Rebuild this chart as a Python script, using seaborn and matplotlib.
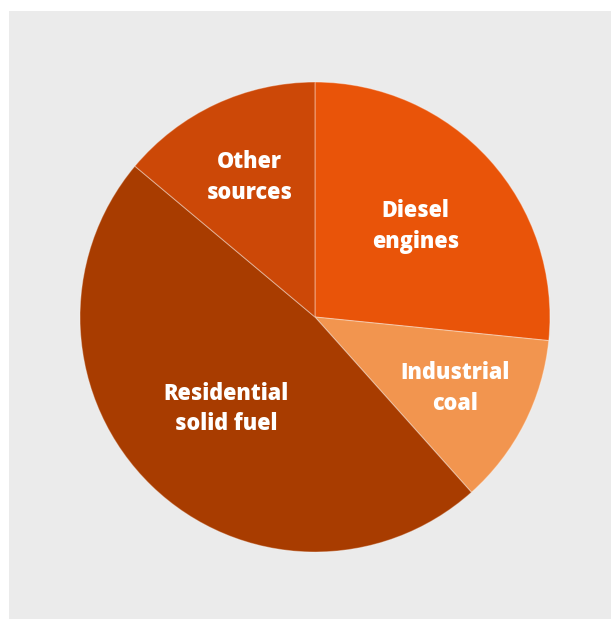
import matplotlib
matplotlib.use("Agg")
import matplotlib.pyplot as plt
import seaborn as sns
import numpy as np

sns.set_theme(style="white")
plt.rcParams['font.family'] = ['Open Sans', 'DejaVu Sans']

categories = ["Diesel\nengines", "Industrial\ncoal", "Residential\nsolid fuel", "Other\nsources"]
values = [26.6, 11.8, 47.7, 13.9]
colors = ["#E95409", "#F2954F", "#A83C00", "#CC4807"]
label_dist = [0.575, 0.67, 0.545, 0.655]

fig = plt.figure(figsize=(6.11, 6.19), dpi=100)
fig.patch.set_facecolor("white")

bg = fig.add_axes([9 / 611, 0, 1 - 9 / 611, 1 - 11 / 619], zorder=0)
bg.set_facecolor("#EBEBEB")
bg.set_xticks([])
bg.set_yticks([])
for s in bg.spines.values():
    s.set_visible(False)

ax = fig.add_axes([0.1309, 0.1082, 0.7692, 0.7593], zorder=1)
ax.set_facecolor("none")
palette = sns.color_palette(colors)
wedges, _ = ax.pie(values, colors=palette, startangle=90, counterclock=False,
                   wedgeprops=dict(edgecolor=(1, 1, 1, 0.35), linewidth=0.8))
for w, lab, d in zip(wedges, categories, label_dist):
    ang = np.deg2rad((w.theta1 + w.theta2) / 2)
    ax.text(d * np.cos(ang), d * np.sin(ang), lab, ha="center", va="center",
            color="white", fontsize=15.6, fontweight="heavy", linespacing=1.38)
ax.set_xlim(-1, 1)
ax.set_ylim(-1, 1)
ax.set_aspect("equal")
ax.axis("off")

fig.savefig("out.png", dpi=100)
